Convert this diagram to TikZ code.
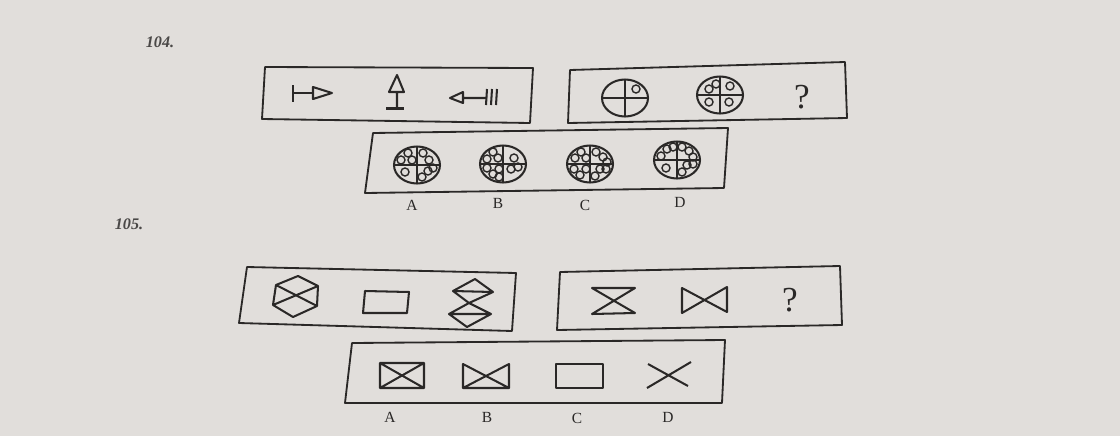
\documentclass[tikz,border=0pt]{standalone}
\usepackage{fontspec}
\setmainfont{Liberation Serif}
\definecolor{paper}{HTML}{E1DEDB}
\definecolor{ink}{HTML}{2A2827}
\tikzset{
  frame/.style={draw=ink,line width=1.3pt,line join=round},
  figline/.style={draw=ink,line width=1.45pt,line join=round},
  dot/.style={draw=ink,line width=1pt},
  optlabel/.style={font=\fontsize{11}{13}\selectfont,text=ink,inner sep=0pt},
  qmark/.style={font=\fontsize{25}{28}\selectfont,text=ink,inner sep=0pt},
  itemno/.style={font=\fontsize{11.5}{14}\selectfont\bfseries\itshape,text=ink!85,inner sep=0pt}
}
% ring split in quadrants, with small circles at the given offsets
\newcommand{\ringfig}[3]{%
  \begin{scope}[shift={(#1,#2)}]
    \draw[figline] (0,0) ellipse [x radius=23,y radius=18.5];
    \draw[figline] (-23,0) -- (23,0) (0,-18.5) -- (0,18.5);
    \foreach \u/\v in {#3} \draw[dot] (\u,\v) circle [radius=4];
  \end{scope}}

\begin{document}
\begin{tikzpicture}[x=0.025cm,y=-0.025cm]
  \fill[paper] (0,0) rectangle (1120,436);
  \useasboundingbox (0,0) rectangle (1120,436);
  % item 104
  \node[itemno] (no104) at (160,42) {104.};
  \draw[frame] (265,67) -- (533,68) -- (530,123) -- (262,119) -- cycle;
  \draw[frame] (570,70) -- (845,62) -- (847,118) -- (568,123) -- cycle;
  \draw[frame] (373,133) -- (728,128) -- (724,188) -- (365,193) -- cycle;
  \draw[figline] (293,85) -- (293,102) (293,93) -- (313,93);
  \draw[figline] (313,87) -- (332,93) -- (313,99) -- cycle;
  \draw[figline] (397,75) -- (404,92) -- (389,92) -- cycle (397,92) -- (397,107);
  \draw[ink,line width=2.8pt] (386,108.5) -- (404,108.5);
  \draw[figline] (450,98) -- (463,92) -- (463,103) -- cycle (463,98) -- (487,98);
  \foreach \x in {487,492,497} \draw[figline] (\x,89) -- (\x-1,105);
  \ringfig{625}{98}{11/-9}
  \ringfig{720}{95}{-11/-6,-4/-11,10/-9,-11/7,9/7}
  \node[qmark] (q104) at (802,97) {?};
  \ringfig{417}{165}{-16/-5,-9/-12,-5/-5,6/-12,12/-5,-12/7,5/12,11/6,16/3}
  \ringfig{503}{164}{-16/-5,-10/-12,-5/-6,11/-6,-16/4,-10/10,-4/5,-4/13,8/5,15/3}
  \ringfig{590}{164}{-15/-6,-9/-12,-4/-6,6/-12,13/-7,17/-2,-16/5,-10/11,-4/5,5/12,10/5,16/5}
  \ringfig{677}{160}{-16/-4,-10/-11,-4/-13,5/-13,12/-9,16/-3,-11/8,5/12,10/5,16/4}
  \foreach \x/\y/\t in {412/205/A,498/203/B,585/205/C,680/202/D}
    \node[optlabel] (lab104\t) at (\x,\y) {\t};
  % item 105
  \node[itemno] (no105) at (129,224) {105.};
  \draw[frame] (247,267) -- (516,273) -- (512,331) -- (239,323) -- cycle;
  \draw[frame] (560,272) -- (840,266) -- (842,325) -- (557,330) -- cycle;
  \draw[frame] (352,343) -- (725,340) -- (722,403) -- (345,403) -- cycle;
  \draw[figline] (298,276) -- (318,286) -- (317,306) -- (293,317) -- (273,305) -- (276,285) -- cycle
    (276,285) -- (317,306) (318,286) -- (273,305);
  \draw[figline] (365,291) -- (409,292) -- (407,313) -- (363,313) -- cycle;
  \draw[figline] (475,279) -- (493,292) -- (469,303) -- (453,291) -- cycle (453,291) -- (493,292);
  \draw[figline] (469,303) -- (491,314) -- (467,327) -- (449,314) -- cycle (449,314) -- (491,314);
  \draw[figline] (592,288) -- (635,288) -- (592,314) -- (635,313) -- cycle;
  \draw[figline] (682,288) -- (727,312) -- (727,287) -- (682,313) -- cycle;
  \node[qmark] (q105) at (790,300) {?};
  \draw[figline] (380,363) -- (424,363) -- (424,388) -- (380,388) -- cycle
    (380,363) -- (424,388) (424,363) -- (380,388);
  \draw[figline] (463,364) -- (509,388) -- (509,364) -- (463,388) -- cycle (463,388) -- (509,388);
  \draw[figline] (556,364) -- (603,364) -- (603,388) -- (556,388) -- cycle;
  \draw[figline] (647,388) -- (691,362) (648,364) -- (688,386);
  \foreach \x/\y/\t in {390/417/A,487/417/B,577/418/C,668/417/D}
    \node[optlabel] (lab105\t) at (\x,\y) {\t};
\end{tikzpicture}
\end{document}
